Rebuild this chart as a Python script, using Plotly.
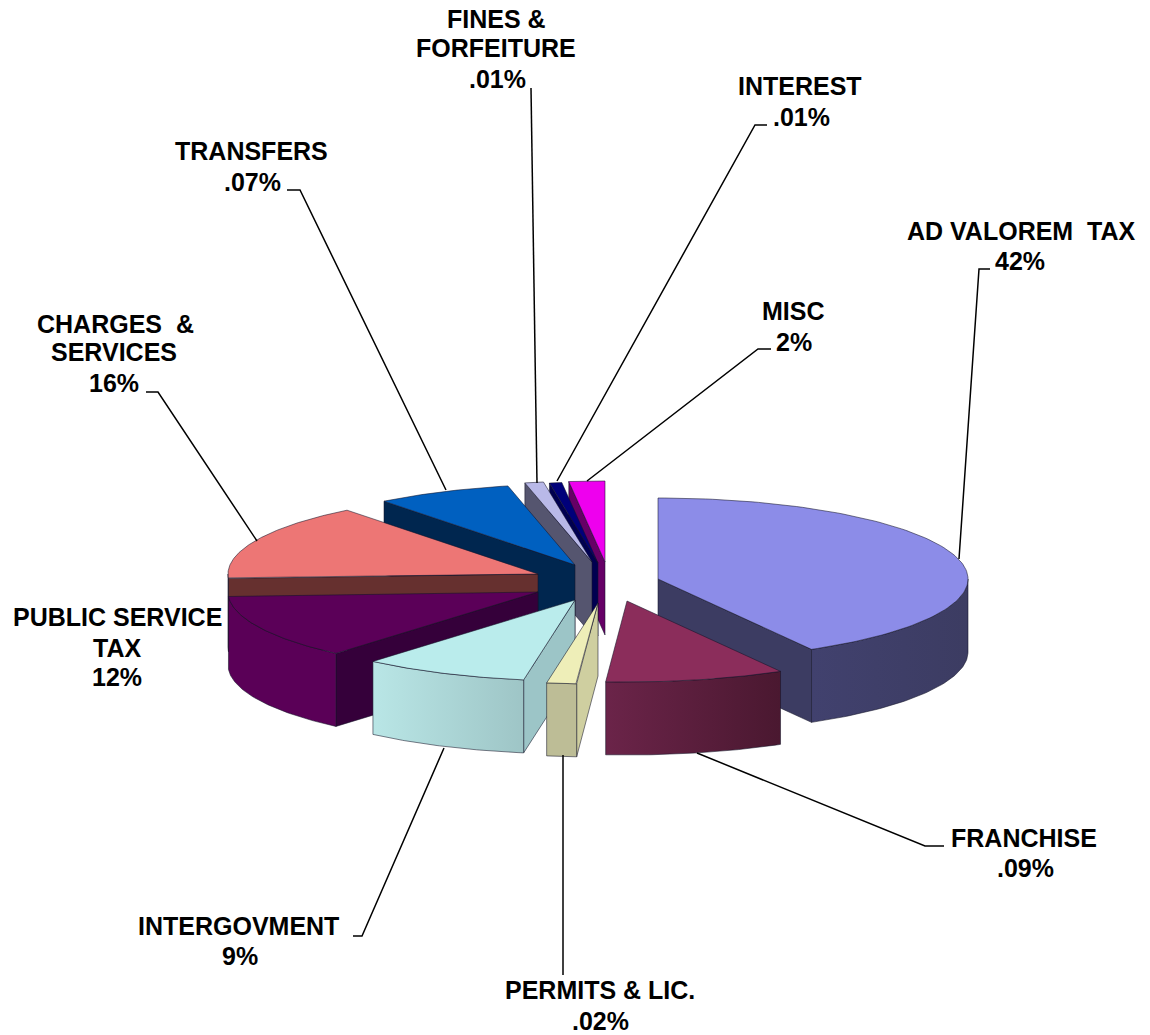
import numpy as np
import plotly.graph_objects as go

# ---- data (share of revenue) ----
categories = ["AD VALOREM TAX", "FRANCHISE", "PERMITS & LIC.", "INTERGOVMENT", "PUBLIC SERVICE TAX",
              "CHARGES & SERVICES", "TRANSFERS", "FINES & FORFEITURE", "INTEREST", "MISC"]
shares = [41.7, 9.33, 1.55, 8.64, 12.8, 15.3, 7.08, 0.97, 0.64, 1.86]

# ---- style: colours per slice ----
top_colors = ["#8c8ce8", "#8b2d5b", "#eeeeb8", "#baecec", "#5b0058",
              "#ed7675", "#0060c0", "#b9b9e8", "#00007a", "#ee00ee"]
cut_colors = ["#3c3c62", "#4a1830", "#cfcfa0", "#9cc5c7", "#35003a",
              "#66302f", "#00264f", "#55556f", "#000050", "#660066"]
wall_left = ["#41416e", "#6b2449", "#bdbd96", "#b9e6e6", "#5a0057",
             "#66302f", "#00264f", "#55556f", "#000050", "#660066"]
wall_right = ["#3c3c62", "#4a1830", "#bdbd96", "#9ec5c6", "#5a0057",
              "#66302f", "#00264f", "#55556f", "#000050", "#660066"]

# ---- layout of the exploded 3-D pie ----
RX, RY, DEPTH = 310, 81, 73
CENTER_X, CENTER_Y = 598, 580
pull_x = [60, 29, 0, -23, -60, -60, -23, -6, 0, 7]
pull_y = [-1, 21, 23, 20, 12, -6, -15, -18, -17, -18]
draw_order = [9, 8, 7, 6, 5, 4, 0, 3, 2, 1]

# ---- text ----
label_lines = [
    ("AD VALOREM\u00a0 TAX", 1021, 231), ("42%", 1020, 261),
    ("MISC", 793, 311), ("2%", 794, 342),
    ("INTEREST", 800, 86), (".01%", 801, 117),
    ("FINES &", 496, 19), ("FORFEITURE", 496, 48), (".01%", 497, 79),
    ("TRANSFERS", 251, 151), (".07%", 252, 182),
    ("CHARGES\u00a0 &", 115, 324), ("SERVICES", 114, 352), ("16%", 114, 383),
    ("PUBLIC SERVICE", 117, 617), ("TAX", 117, 648), ("12%", 117, 677),
    ("INTERGOVMENT", 238, 926), ("9%", 240, 956),
    ("PERMITS & LIC.", 600, 990), (".02%", 600, 1021),
    ("FRANCHISE", 1024, 838), (".09%", 1025, 868),
]
leaders = [
    ([990, 979, 959], [269, 269, 559]),
    ([771, 758, 587], [349, 349, 481]),
    ([767, 755, 557], [125, 125, 481]),
    ([531, 537], [88, 483]),
    ([287, 300, 446], [190, 190, 490]),
    ([146, 158, 257], [392, 392, 541]),
    ([353, 362, 444], [936, 936, 748]),
    ([563, 563], [755, 975]),
    ([697, 925, 944], [753, 846, 846]),
]

EDGE = "rgba(20,20,40,0.55)"
total = sum(shares)
bounds = np.concatenate([[0], np.cumsum(shares)]) / total * 360.0


def ell(theta_deg, ax, ay):
    t = np.radians(theta_deg)
    return ax + RX * np.sin(t), ay - RY * np.cos(t)


def face(fig, xs, ys, color=None, grad=None):
    kw = dict(fillgradient=dict(type="horizontal", colorscale=[[0, grad[0]], [1, grad[1]]])) if grad else dict(fillcolor=color)
    fig.add_trace(go.Scatter(x=list(xs) + [xs[0]], y=list(ys) + [ys[0]], mode="lines", fill="toself",
                             line=dict(color=EDGE, width=1), hoverinfo="skip", showlegend=False, **kw))


fig = go.Figure()
for i in draw_order:
    a, b = bounds[i], bounds[i + 1]
    ax, ay = CENTER_X + pull_x[i], CENTER_Y + pull_y[i]
    # cut face at the start or the end of the slice, when it looks toward the viewer
    if 180 < a < 360:
        ex, ey = ell(a, ax, ay)
        face(fig, [ax, ex, ex, ax], [ay, ey, ey + DEPTH, ay + DEPTH], color=cut_colors[i])
    if 0 < b < 180:
        ex, ey = ell(b, ax, ay)
        face(fig, [ax, ex, ex, ax], [ay, ey, ey + DEPTH, ay + DEPTH], color=cut_colors[i])
    # outer wall: front half of the rim only
    w0, w1 = max(a, 90), min(b, 270)
    if w1 > w0:
        th = np.linspace(w0, w1, 60)
        wx, wy = ell(th, ax, ay)
        xs = np.concatenate([wx, wx[::-1]])
        ys = np.concatenate([wy, (wy + DEPTH)[::-1]])
        face(fig, xs, ys, grad=(wall_left[i], wall_right[i]))
    # top surface
    th = np.linspace(a, b, 120)
    tx, ty = ell(th, ax, ay)
    face(fig, np.concatenate([[ax], tx]), np.concatenate([[ay], ty]), color=top_colors[i])

for lx, ly in leaders:
    fig.add_trace(go.Scatter(x=lx, y=ly, mode="lines", line=dict(color="black", width=1.5),
                             hoverinfo="skip", showlegend=False))

for text, x, y in label_lines:
    fig.add_annotation(x=x, y=y, text=f"<b>{text}</b>", showarrow=False, xanchor="center", yanchor="middle",
                       font=dict(family="Liberation Sans, Arial, sans-serif", size=25, color="black"))

fig.update_layout(width=1150, height=1035, margin=dict(l=0, r=0, t=0, b=0),
                  paper_bgcolor="white", plot_bgcolor="white", showlegend=False,
                  xaxis=dict(range=[0, 1150], visible=False, fixedrange=True),
                  yaxis=dict(range=[1035, 0], visible=False, fixedrange=True))

fig.write_html("out.html", post_script="document.body.style.margin='0';document.body.style.overflow='hidden';",
               config=dict(displayModeBar=False))
